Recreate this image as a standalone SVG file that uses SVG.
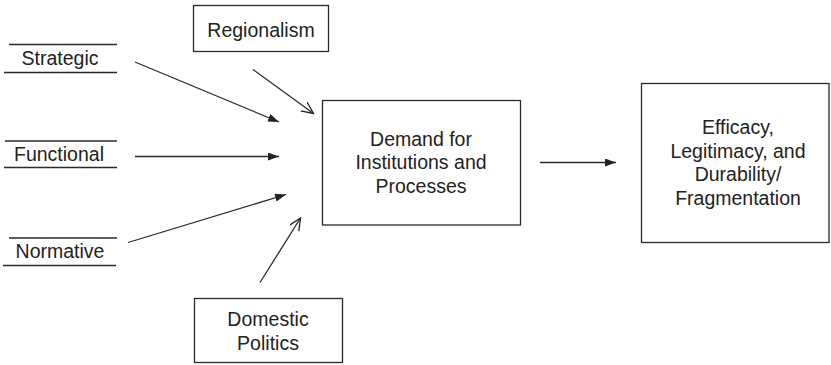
<svg xmlns="http://www.w3.org/2000/svg" width="831" height="365" viewBox="0 0 831 365">
  <style>
    .box { fill: #ffffff; stroke: #2a2a2a; stroke-width: 1.3; }
    .rule { stroke: #2a2a2a; stroke-width: 1.3; }
    .edge { stroke: #2a2a2a; stroke-width: 1.3; fill: none; }
    .lbl { font-family: "Liberation Sans", Arial, sans-serif; font-size: 19.5px; fill: #222222; text-anchor: middle; }
  </style>
  <defs>
    <marker id="solid" markerUnits="userSpaceOnUse" markerWidth="12" markerHeight="10" refX="11" refY="4" orient="auto">
      <path d="M0,0 L11,4 L0,8 z" fill="#222222"/>
    </marker>
    <marker id="open" markerUnits="userSpaceOnUse" markerWidth="14" markerHeight="12" refX="12" refY="5.5" orient="auto">
      <path d="M0,0 L12,5.5 L0,11" fill="none" stroke="#222222" stroke-width="1.3"/>
    </marker>
  </defs>
  <rect width="831" height="365" fill="#ffffff"/>

  <!-- driver labels set between two rules -->
  <g id="strategic">
    <line class="rule" x1="9" y1="44.5" x2="117" y2="44.5"/>
    <line class="rule" x1="4" y1="72.5" x2="117" y2="72.5"/>
    <text class="lbl" x="60" y="64.5">Strategic</text>
  </g>
  <g id="functional">
    <line class="rule" x1="5" y1="141" x2="117" y2="141"/>
    <line class="rule" x1="4" y1="167.5" x2="117" y2="167.5"/>
    <text class="lbl" x="59" y="160.5">Functional</text>
  </g>
  <g id="normative">
    <line class="rule" x1="9" y1="238" x2="117" y2="238"/>
    <line class="rule" x1="3" y1="265.5" x2="116" y2="265.5"/>
    <text class="lbl" x="60" y="257.5">Normative</text>
  </g>

  <!-- boxed factors -->
  <g id="regionalism">
    <rect class="box" x="193.5" y="5.5" width="135" height="46"/>
    <text class="lbl" x="261" y="37">Regionalism</text>
  </g>
  <g id="domestic">
    <rect class="box" x="194.5" y="298.5" width="148" height="64"/>
    <text class="lbl" x="268" y="326">Domestic</text>
    <text class="lbl" x="268" y="349.5">Politics</text>
  </g>
  <g id="demand">
    <rect class="box" x="322.5" y="100.5" width="198" height="124.5"/>
    <text class="lbl" x="421" y="145.5">Demand for</text>
    <text class="lbl" x="421" y="169">Institutions and</text>
    <text class="lbl" x="421" y="192.5">Processes</text>
  </g>
  <g id="outcomes">
    <rect class="box" x="641.5" y="83.5" width="187.5" height="159"/>
    <text class="lbl" x="738" y="134">Efficacy,</text>
    <text class="lbl" x="738" y="157.5">Legitimacy, and</text>
    <text class="lbl" x="738" y="181">Durability/</text>
    <text class="lbl" x="738" y="204.5">Fragmentation</text>
  </g>

  <!-- connectors -->
  <g id="connectors">
    <line class="edge" x1="135" y1="62" x2="279" y2="122" marker-end="url(#solid)"/>
    <line class="edge" x1="135" y1="156.5" x2="279" y2="156.5" marker-end="url(#solid)"/>
    <line class="edge" x1="128" y1="242.5" x2="286" y2="194.5" marker-end="url(#solid)"/>
    <line class="edge" x1="253" y1="69.5" x2="313.5" y2="113.5" marker-end="url(#open)"/>
    <line class="edge" x1="260" y1="282.5" x2="300.5" y2="218" marker-end="url(#open)"/>
    <line class="edge" x1="540" y1="162.5" x2="616" y2="162.5" marker-end="url(#solid)"/>
  </g>
</svg>
